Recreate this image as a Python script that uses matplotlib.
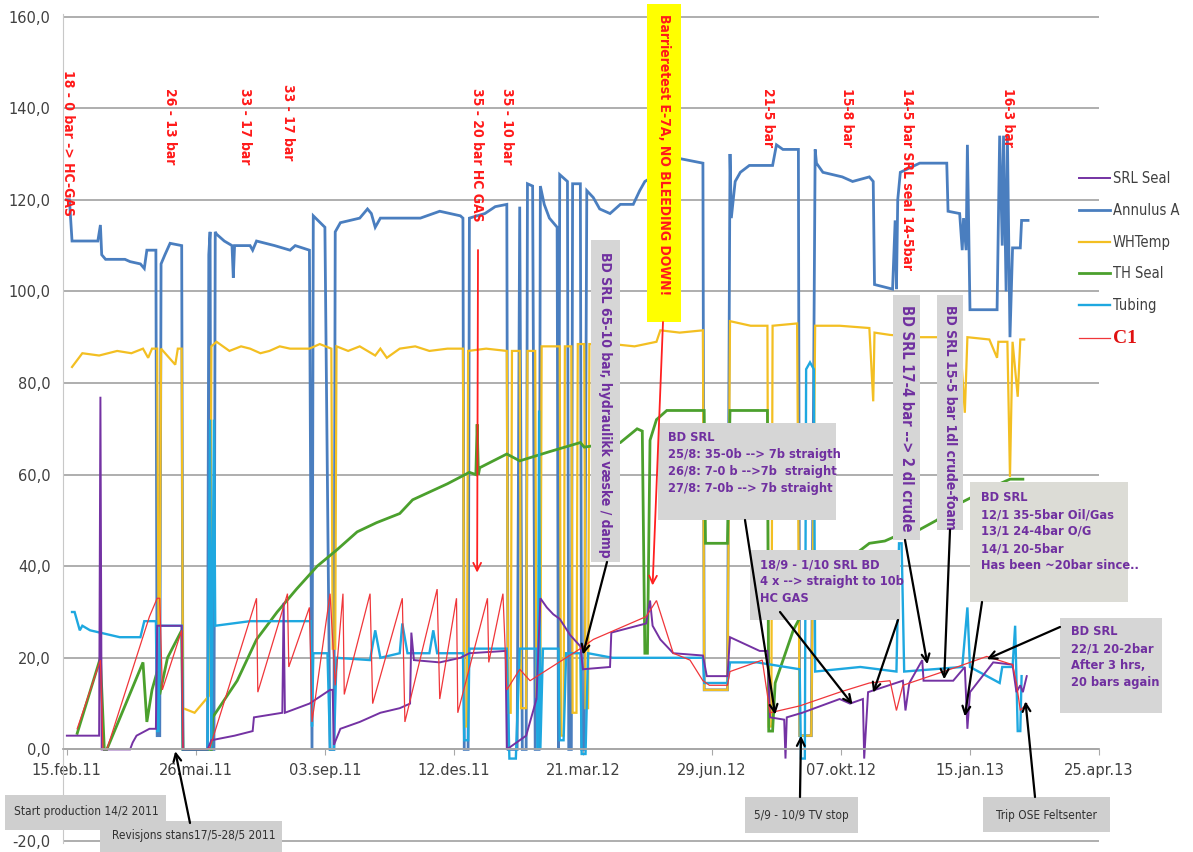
import matplotlib
matplotlib.use("Agg")
import matplotlib.pyplot as plt
from matplotlib.patches import Rectangle

W, H = 1193, 852

# x values are days since 15.feb.11
tick_days = [0, 100, 200, 300, 400, 500, 600, 700, 800]
tick_labels = ["15.feb.11", "26.mai.11", "03.sep.11", "12.des.11", "21.mar.12",
               "29.jun.12", "07.okt.12", "15.jan.13", "25.apr.13"]
y_ticks = [-20, 0, 20, 40, 60, 80, 100, 120, 140, 160]

# (day, value)
annulus_a = [(0, 120), (2, 120), (4, 111), (22, 111), (24, 111), (26, 114.5), (27, 108), (30, 107),
             (45, 107), (49, 106.5), (57, 106), (60, 105), (62, 109), (69, 109), (70, 3), (72, 3),
             (73, 106), (76, 108), (80, 110.5), (89, 110), (90, 0), (109, 0), (110, 108), (111, 113),
             (112, 0), (114, 0), (115, 113), (116, 112.5), (122, 111), (128, 110), (129, 103),
             (130, 110), (142, 110), (144, 109), (147, 111), (161, 110), (173, 109), (177, 110),
             (188, 109), (190, 0), (191, 116.5), (200, 114), (204, 0), (207, 0), (208, 113),
             (212, 115), (227, 116), (233, 118), (236, 117), (239, 114), (243, 116), (258, 116),
             (274, 116), (289, 117.5), (305, 116.5), (307, 116), (308, 0), (311, 0), (312, 116),
             (324, 117), (332, 118.5), (341, 119), (342, 0), (349, 0), (351, 118.5), (353, 0),
             (356, 0), (357, 123.5), (361, 123), (363, 0), (366, 0), (367, 123), (370, 119),
             (374, 116), (380, 114), (381, 0), (382, 125.5), (388, 124), (389, 0), (391, 0),
             (392, 123.5), (398, 123.5), (399, 0), (401, 0), (403, 122), (408, 120.5), (413, 118),
             (421, 117), (429, 119), (439, 119), (444, 122), (448, 124), (460, 126), (475, 129),
             (493, 128), (494, 13), (512, 13), (514, 130), (515, 116), (518, 124), (522, 126),
             (529, 127.5), (547, 127.5), (550, 132), (555, 131), (567, 131), (568, 3), (577, 3),
             (580, 131), (581, 128), (586, 126), (601, 125), (609, 124), (622, 125), (625, 124),
             (626, 101.5), (640, 100.5), (642, 115.5), (643, 100.5), (644, 120), (646, 126),
             (661, 128), (682, 128), (683, 117.5), (692, 117), (694, 109), (695, 116), (697, 109),
             (698, 132), (700, 96), (721, 96), (723, 134), (725, 110), (726, 134), (728, 100),
             (729, 134), (731, 90), (733, 109.5), (739, 109.5), (740, 115.5), (745, 115.5)]

wh_temp = [(4, 83.5), (12, 86.5), (25, 86), (39, 87), (50, 86.5), (59, 87.5), (63, 85.5), (66, 87.5),
           (70, 87.5), (71, 27), (72, 27), (73, 87.5), (84, 84), (86, 87.5), (89, 87.5), (90, 9),
           (99, 8), (105, 10), (111, 12), (112, 88), (116, 89), (126, 87), (135, 88), (142, 87.5),
           (150, 86.5), (157, 87), (165, 88), (173, 87.5), (188, 87.5), (196, 88.5), (205, 87.5),
           (206, 22), (208, 22), (209, 88), (218, 87), (227, 88), (239, 86), (243, 87.5), (248, 85.5),
           (258, 87.5), (270, 88), (281, 87), (295, 87.5), (307, 87.5), (308, 5), (310, 5), (311, 87),
           (325, 87.5), (341, 87), (342, 8), (344, 8), (345, 87), (351, 87), (352, 9), (356, 9),
           (357, 87), (363, 87), (364, 11.5), (367, 11.5), (368, 88), (382, 88), (383, 3), (385, 3),
           (386, 88), (391, 88), (392, 8), (395, 8), (396, 88.5), (401, 88.5), (402, 9), (404, 9),
           (405, 88.5), (423, 88.5), (440, 88), (457, 89), (460, 91.5), (475, 91), (493, 91.5),
           (494, 13), (512, 13), (514, 93.5), (530, 92.5), (543, 92.5), (544, 5), (546, 5),
           (547, 92.5), (566, 93), (568, 3), (577, 3), (580, 92.5), (599, 92.5), (622, 92), (625, 76),
           (626, 91), (638, 90.5), (660, 90), (677, 90), (692, 90.5), (696, 73.5), (698, 90),
           (715, 89.5), (721, 85.5), (722, 89), (729, 89), (731, 59.5), (733, 89), (737, 77),
           (739, 89.5), (742, 89.5)]

th_seal = [(8, 3.5), (26, 20), (29, 0), (31, 0), (59, 19), (62, 6), (66, 13), (70, 17), (72, 12),
           (78, 20), (89, 26), (90, 0), (112, 0), (113, 7), (132, 15), (147, 24), (163, 30),
           (178, 35), (194, 40), (209, 43.5), (225, 47.5), (240, 49.5), (258, 51.5), (268, 54.5),
           (295, 58), (312, 60.5), (317, 60), (318, 71), (319, 60), (320, 61.5), (341, 64.5),
           (351, 63), (374, 65), (398, 67), (401, 66), (413, 66.5), (429, 67), (442, 70),
           (446, 69.5), (448, 21), (450, 21), (452, 67.5), (457, 72), (465, 74), (491, 74),
           (494, 74), (495, 45), (512, 45), (514, 74), (543, 74), (544, 4), (547, 4), (549, 14.5),
           (563, 26), (576, 33), (599, 40), (622, 45), (634, 45.5), (646, 47), (661, 48), (674, 50),
           (694, 54), (715, 57), (731, 59), (741, 59)]

tubing = [(4, 30), (6, 30), (10, 26), (12, 27), (18, 26), (41, 24.5), (57, 24.5), (60, 28), (69, 28),
          (70, 4), (71, 4), (72, 27), (89, 27), (90, 0), (109, 0), (111, 72), (112, 0), (114, 72),
          (115, 27), (142, 28), (173, 28), (189, 28), (190, 5), (191, 21), (202, 21), (204, 0),
          (207, 0), (209, 20), (235, 19.5), (239, 26), (243, 20), (258, 21), (260, 27.5), (264, 21),
          (281, 21), (284, 26), (287, 21), (307, 21), (308, 2), (311, 2), (312, 22), (341, 22),
          (343, -2), (348, -2), (351, 22), (364, 22), (365, 0), (366, 74), (367, 0), (369, 22),
          (381, 22), (382, 2), (385, 2), (387, 21), (398, 21), (399, -1), (402, -1), (404, 21),
          (423, 20), (460, 20), (493, 20), (494, 14.5), (512, 14.5), (514, 19), (535, 19),
          (568, 17.5), (569, -2), (572, -2), (573, 83), (576, 84.5), (579, 83), (580, 17), (615, 18),
          (643, 17), (645, 45), (647, 45), (649, 17), (694, 18), (698, 31), (700, 18), (723, 14.5),
          (725, 18), (733, 18), (735, 27), (737, 4), (739, 4), (740, 16)]

srl_seal = [(0, 3), (12, 3), (25, 3), (26, 77), (27, 0), (49, 0), (51, 1.5), (54, 3), (64, 4.5),
            (69, 4.5), (70, 27), (89, 27), (90, 0), (109, 0), (112, 2), (130, 3), (144, 4), (145, 7),
            (167, 8), (168, 32), (169, 8), (188, 10), (204, 13), (206, 13), (207, 1), (212, 4.5),
            (227, 6), (243, 8), (258, 9), (266, 10), (267, 25.5), (269, 19.5), (289, 19), (305, 20),
            (312, 21), (340, 21.5), (341, 0), (356, 3), (364, 11), (367, 33), (372, 31), (377, 29.5),
            (382, 28.5), (390, 25), (398, 22.5), (400, 17.5), (421, 18), (422, 25.5), (449, 27.5),
            (452, 32.5), (454, 27), (460, 24), (470, 21), (493, 20.5), (496, 16), (512, 16),
            (514, 24.5), (537, 21.5), (543, 21.5), (545, 7), (556, 6.5), (557, -2), (558, 7),
            (570, 8), (599, 11), (607, 10), (617, 11), (618, -2), (621, 12.5), (648, 15), (650, 8.5),
            (653, 14.5), (663, 19.5), (664, 15), (687, 15), (696, 18), (698, 4.5), (700, 12.5),
            (718, 19), (733, 18.5), (736, 12.5), (739, 14), (741, 12.5), (744, 16)]

c1 = [(8, 4.5), (26, 19.5), (28, 0), (31, 0), (64, 29), (70, 33), (72, 33), (74, 13), (89, 26),
      (90, 0), (109, 0), (111, 0.5), (147, 33), (148, 12.5), (171, 34), (172, 18), (188, 31),
      (190, 6), (204, 34), (208, 14), (214, 34), (215, 12), (235, 34), (237, 10), (260, 33), (262, 6),
      (287, 35), (289, 11), (302, 33), (303, 8), (326, 33), (327, 19), (338, 34), (341, 13),
      (351, 17.5), (359, 15), (398, 22), (408, 24), (449, 29), (457, 32.5), (470, 21), (483, 19.5),
      (493, 15), (498, 14), (512, 14), (514, 17), (539, 19.5), (545, 8), (568, 9.5), (599, 12.5),
      (622, 14.5), (638, 15), (643, 8.5), (648, 14), (690, 18), (713, 20.3), (733, 18.5),
      (736, 14.5), (739, 8.5), (744, 10)]

series = [
    ("Annulus A", annulus_a, "#4a7ebf", 2.0),
    ("WHTemp", wh_temp, "#f3bf22", 1.6),
    ("TH Seal", th_seal, "#4ba02d", 2.0),
    ("Tubing", tubing, "#1ea8e0", 1.7),
    ("SRL Seal", srl_seal, "#7432a3", 1.4),
    ("C1", c1, "#f0363a", 0.9),
]
legend_order = ["SRL Seal", "Annulus A", "WHTemp", "TH Seal", "Tubing", "C1"]

PURPLE = "#7030a0"
RED = "#ff1a1a"


def fp(x, y):
    # pixel position (from top-left) -> figure fraction
    return x / W, 1 - y / H


fig = plt.figure(figsize=(W / 100, H / 100), dpi=100)
ax = fig.add_axes([63 / W, 8.7 / H, 1036 / W, 829 / H])

handles = {}
for name, pts, color, lw in series:
    d, v = zip(*pts)
    (ln,) = ax.plot(d, v, color=color, lw=lw, label=name, solid_joinstyle="miter")
    handles[name] = ln

ax.set_xlim(-3, 800)
ax.set_ylim(-20.5, 160.5)
ax.set_yticks(y_ticks)
ax.set_yticklabels([f"{t:.1f}".replace(".", ",") for t in y_ticks])
ax.set_xticks(tick_days)
ax.set_xticklabels(tick_labels)
ax.yaxis.grid(True, color="#a8a8a8", lw=1.3)
ax.set_axisbelow(True)
for s in ["top", "right"]:
    ax.spines[s].set_visible(False)
ax.spines["bottom"].set_position(("data", 0))
ax.spines["bottom"].set_color("#a8a8a8")
ax.spines["bottom"].set_linewidth(1.3)
ax.spines["left"].set_color("#c8c8c8")
ax.tick_params(axis="y", length=0, pad=9, labelsize=10.5, labelcolor="#404040")
ax.tick_params(axis="x", length=4, color="#a8a8a8", pad=6, labelsize=10.5, labelcolor="#404040")

leg = ax.legend([handles[n] for n in legend_order], legend_order, loc="upper left",
                bbox_to_anchor=fp(1066, 158), bbox_transform=fig.transFigure, frameon=False,
                prop={"family": "DejaVu Sans", "stretch": "condensed", "size": 10.5},
                labelspacing=1.15, handlelength=2.1, handletextpad=0.2)
for t in leg.get_texts():
    t.set_color("#404040")
c1_text = leg.get_texts()[-1]
c1_text.set_color("#e01010")
c1_text.set_family("Liberation Serif")
c1_text.set_stretch("normal")
c1_text.set_weight("bold")
c1_text.set_size(14)


def box(x0, y0, x1, y1, fc="#d6d6d6"):
    ax.add_patch(Rectangle(fp(x0, y1), (x1 - x0) / W, (y1 - y0) / H, transform=fig.transFigure,
                           fc=fc, ec="none", clip_on=False, zorder=5))


def vtext(x, y, s, color, size, weight="bold"):
    ax.text(*fp(x, y), s, transform=fig.transFigure, rotation=-90, ha="center", va="top",
            color=color, fontsize=size, family="DejaVu Sans", stretch="condensed", weight=weight,
            clip_on=False, zorder=6)


def htext(x, y, s, color=PURPLE, size=9.2, weight="bold", ha="left", va="top"):
    ax.text(*fp(x, y), s, transform=fig.transFigure, ha=ha, va=va, color=color, fontsize=size,
            family="DejaVu Sans", stretch="condensed", weight=weight, linespacing=1.4,
            clip_on=False, zorder=6)


def arrow(base, tip, color="black", lw=1.6):
    ax.annotate("", xy=tip, xycoords="data", xytext=(base[0], H - base[1]),
                textcoords="figure pixels", annotation_clip=False, zorder=7,
                arrowprops=dict(arrowstyle="->", color=color, lw=lw, shrinkA=0, shrinkB=0,
                                mutation_scale=14))


# red pressure notes along the top
for x, y, s in [(68, 70, "18 - 0 bar -> HC-GAS"), (170, 88, "26 - 13 bar"), (245, 88, "33 - 17 bar"),
                (288, 84, "33 - 17 bar"), (477, 88, "35 - 20 bar HC GAS"), (507, 88, "35 - 10 bar"),
                (768, 88, "21-5 bar"), (847, 88, "15-8 bar"), (907, 88, "14-5 bar SRL seal 14-5bar"),
                (1008, 88, "16-3 bar")]:
    vtext(x, y, s, RED, 10)

box(647, 4, 681, 322, fc="#ffff00")
vtext(664, 14, "Barrieretest E-7A, NO BLEEDING DOWN!", RED, 10)

# rotated grey notes
box(591, 240, 620, 562)
vtext(605, 252, "BD SRL 65-10 bar, hydraulikk væske / damp", PURPLE, 10)
box(893, 295, 920, 540)
vtext(906, 305, "BD SRL 17-4 bar --> 2 dl crude", PURPLE, 10.5)
box(937, 295, 963, 530)
vtext(950, 305, "BD SRL 15-5 bar 1dl crude-foam", PURPLE, 10)

# horizontal grey notes
box(658, 423, 836, 520)
htext(668, 431, "BD SRL\n25/8: 35-0b --> 7b straigth\n26/8: 7-0 b -->7b  straight\n"
                "27/8: 7-0b --> 7b straight")
box(750, 550, 900, 620)
htext(760, 558, "18/9 - 1/10 SRL BD\n4 x --> straight to 10b\nHC GAS")
box(970, 482, 1128, 602, fc="#dcdcd6")
htext(981, 491, "BD SRL\n12/1 35-5bar Oil/Gas\n13/1 24-4bar O/G\n14/1 20-5bar\n"
                "Has been ~20bar since..")
box(1060, 618, 1162, 713)
htext(1071, 625, "BD SRL\n22/1 20-2bar\nAfter 3 hrs,\n20 bars again")

# event boxes under the axis
box(5, 795, 166, 830, fc="#cfcfcf")
htext(14, 812, "Start production 14/2 2011", color="#303030", size=8.5, weight="normal", va="center")
box(100, 821, 282, 852, fc="#cfcfcf")
htext(112, 836, "Revisjons stans17/5-28/5 2011", color="#303030", size=8.5, weight="normal",
      va="center")
box(745, 797, 858, 833, fc="#cfcfcf")
htext(801, 815, "5/9 - 10/9 TV stop", color="#303030", size=8.5, weight="normal", ha="center",
      va="center")
box(983, 797, 1110, 832, fc="#cfcfcf")
htext(1046, 815, "Trip OSE Feltsenter", color="#303030", size=8.5, weight="normal", ha="center",
      va="center")

# arrows
arrow((478, 250), (318, 38.6), color="#ff2020", lw=1.3)
arrow((663, 322), (454, 35.8), color="#ff2020", lw=1.3)
arrow((607, 562), (400, 20.7))
arrow((745, 520), (549, 7.6))
arrow((780, 612), (609, 9.8))
arrow((898, 620), (625, 12.4))
arrow((905, 540), (667, 18.6))
arrow((950, 530), (680, 15.3))
arrow((982, 602), (696, 7.2))
arrow((1060, 627), (713, 19.7))
arrow((190, 823), (84, -0.4))
arrow((800, 797), (569, 3))
arrow((1035, 797), (743, 10.5))

fig.savefig("out.png", dpi=100)
